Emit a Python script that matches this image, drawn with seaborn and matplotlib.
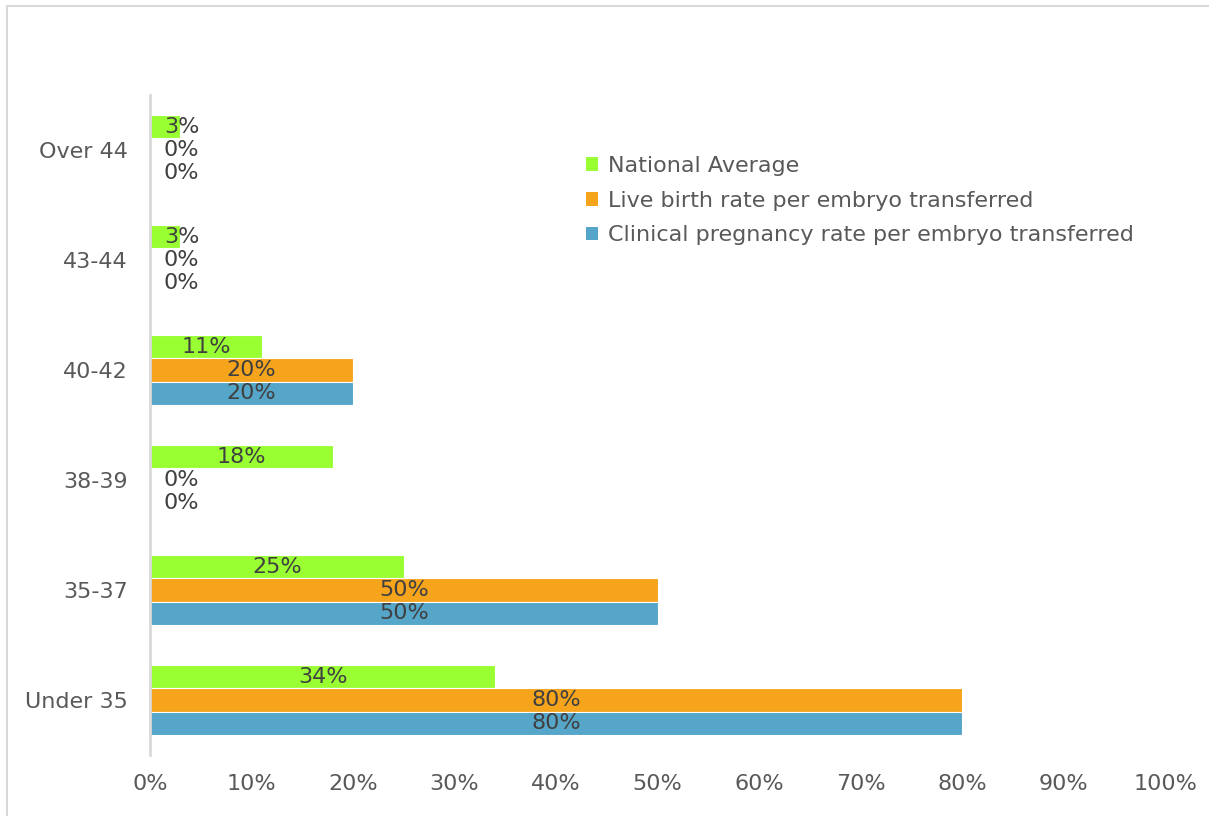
import matplotlib
matplotlib.use("Agg")
import matplotlib.pyplot as plt
import seaborn as sns
import pandas as pd
from matplotlib.lines import Line2D
from matplotlib.patches import Patch

categories = ["Over 44", "43-44", "40-42", "38-39", "35-37", "Under 35"]
series_names = ["National Average",
                "Live birth rate per embryo transferred",
                "Clinical pregnancy rate per embryo transferred"]
national_avg = [3, 3, 11, 18, 25, 34]
live_birth = [0, 0, 20, 0, 50, 80]
clinical_preg = [0, 0, 20, 0, 50, 80]
colors = ["#99FF33", "#F6A41C", "#55A6C8"]
xticks = [0, 10, 20, 30, 40, 50, 60, 70, 80, 90, 100]

rows = []
for name, vals in zip(series_names, [national_avg, live_birth, clinical_preg]):
    for c, v in zip(categories, vals):
        rows.append({"Age": c, "Series": name, "Value": v})
df = pd.DataFrame(rows)

sns.set_theme(style="white")
plt.rcParams["font.family"] = ["DejaVu Sans"]
text_color = "#595959"
fs = 16

fig = plt.figure(figsize=(12.09, 8.16), dpi=100)
ax = fig.add_axes([150/1209, 1-755/816, (1165-150)/1209, (755-95)/816])

sns.barplot(data=df, y="Age", x="Value", hue="Series", order=categories,
            hue_order=series_names, palette=colors, orient="h", width=0.63,
            linewidth=0.8, edgecolor="white", saturation=1, legend=False, ax=ax)

ax.set_xlim(0, 100)
ax.set_ylim(len(categories) - 0.5, -0.5)
ax.set_xticks(xticks)
ax.set_xticklabels([f"{t}%" for t in xticks])
ax.set_xlabel("")
ax.set_ylabel("")
ax.tick_params(axis="x", length=0, pad=14, labelsize=fs, labelcolor=text_color)
ax.tick_params(axis="y", length=0, pad=16, labelsize=fs, labelcolor=text_color)
for s in ["top", "right", "bottom"]:
    ax.spines[s].set_visible(False)
ax.spines["left"].set_color("#D9D9D9")
ax.spines["left"].set_linewidth(2)
ax.grid(False)

# data labels
for cont in ax.containers:
    for bar in cont:
        v = bar.get_width()
        yc = bar.get_y() + bar.get_height() / 2
        xc = max(v / 2, 3.1)
        ax.text(xc, yc, f"{v:.0f}%", ha="center", va="center",
                fontsize=fs, color="#404040")

handles = [Patch(facecolor=c, edgecolor="none") for c in colors]
leg = fig.legend(handles, series_names, loc="upper left",
                 bbox_to_anchor=(566/1209, 1-136/816), frameon=False,
                 fontsize=fs, labelcolor=text_color, handlelength=0.55,
                 handleheight=0.55, handletextpad=0.45, labelspacing=0.66)

# figure border (top and left)
fig.add_artist(Line2D([7/1209, 1.0], [1-6/816, 1-6/816], transform=fig.transFigure,
                      color="#D9D9D9", linewidth=1.5))
fig.add_artist(Line2D([7/1209, 7/1209], [0, 1-6/816], transform=fig.transFigure,
                      color="#D9D9D9", linewidth=1.5))

fig.savefig("out.png", dpi=100)
